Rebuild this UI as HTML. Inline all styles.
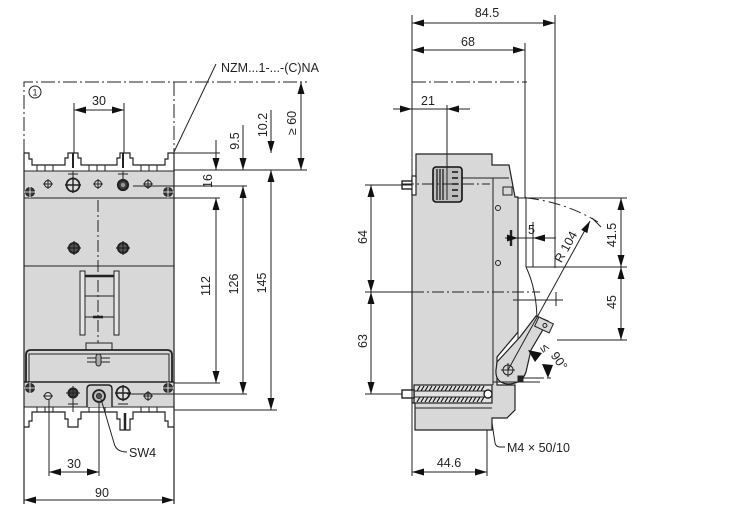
<!DOCTYPE html>
<html><head><meta charset="utf-8"><style>
html,body{margin:0;padding:0;background:#fff;}
svg{display:block;}
text{font-family:"Liberation Sans",sans-serif;font-size:12.5px;fill:#222;}
</style></head><body>
<svg width="743" height="509" viewBox="0 0 743 509" xmlns="http://www.w3.org/2000/svg">
<defs>
<marker id="a" viewBox="0 0 12 7" refX="12" refY="3.5" markerWidth="12" markerHeight="7" markerUnits="userSpaceOnUse" orient="auto-start-reverse"><path d="M0,0L12,3.5L0,7z" fill="#111"/></marker>
</defs>

<!-- ================= LEFT DEVICE ================= -->
<g stroke="#222" stroke-width="1" fill="none">
  <rect x="24" y="171" width="150" height="236" fill="#d8d8d8" stroke="none"/>
  <path d="M24,153 V82 H307 M174,82 V153" stroke-dasharray="14 3 2 3"/>
  <path d="M24,153 V504 M174,153 V504" stroke-width="1.2"/>
  <path d="M24,153 H29 V159 H32 V165 H65 V158 H68 V153 H78 V158 H81 V165 H117 V158 H120 V153 H130 V158 H133 V165 H165 V159 H168 V153 H174" stroke-width="1.2"/>
  <path d="M24,171 H174 M24,198 H174 M24,266 H174"/>
  <path d="M37,165V171 M45,165V171 M53,165V171 M89,165V171 M97,165V171 M105,165V171 M141,165V171 M149,165V171 M157,165V171"/>
  <path d="M73,153 V168 M123,153 V168" stroke-width="2"/>
  <path d="M68,174 H78 M73,171 V179 M118,174 H128 M123,171 V179"/>
  <path d="M24,407 H174"/>
  <path d="M24,427 H29 V421 H32 V412 H65 V419 H68 V427 H78 V419 H81 V412 H117 V419 H120 V430 H130 V419 H133 V412 H165 V421 H168 V427 H174" stroke-width="1.2"/>
  <path d="M37,407V412 M45,407V412 M53,407V412 M89,407V412 M105,407V412 M141,407V412 M149,407V412 M157,407V412"/>
  <path d="M125,413 V430" stroke-width="2.5"/>
  <path d="M68,404 H78 M73,400 V412 M118,404 H128"/>

  <g fill="#ddd"><circle cx="48" cy="184" r="3.5"/><circle cx="98" cy="184" r="3.5"/><circle cx="148" cy="184" r="3.5"/></g>
  <path d="M43,184H53 M48,179V189 M93,184H103 M98,179V189 M143,184H153 M148,179V189"/>
  <circle cx="73" cy="185" r="6.5" stroke-width="1.8" fill="#ddd"/>
  <path d="M65,185H81 M73,177V193" stroke-width="1.4"/>
  <circle cx="123" cy="185" r="5" stroke-width="2.2" fill="#444"/><circle cx="123" cy="185" r="2" fill="#999" stroke="none"/>
  <circle cx="30" cy="192" r="4.5" fill="#333"/><circle cx="168" cy="192" r="4.5" fill="#333"/>
  <path d="M24,192H36 M30,186V198 M162,192H174 M168,186V198" stroke="#fff" stroke-width="0.8"/>

  <path d="M98,200 V345" stroke-dasharray="12 3 2 3"/>
  <circle cx="74" cy="248" r="5" stroke-width="2" fill="#555"/>
  <circle cx="123" cy="248" r="5" stroke-width="2" fill="#555"/>
  <path d="M67,248H81 M74,241V255 M116,248H130 M123,241V255" stroke-width="1.2"/>

  <rect x="80" y="271" width="5" height="64" fill="#e6e6e6"/>
  <rect x="114" y="271" width="5" height="64" fill="#e6e6e6"/>
  <path d="M85,276 H114" stroke-width="2.6"/>
  <path d="M85,296 H114 M85,317 H114"/>
  <path d="M93,317 H103" stroke-width="2.6"/>
  <rect x="86" y="343" width="26" height="7" fill="#d8d8d8"/>
  <path d="M26,382 V355 Q26,350 31,350 H167 Q172,350 172,355 V382" stroke-width="1.8"/>
  <path d="M29,382 V354 H169 V382"/>
  <path d="M24,382 H174" stroke-width="1.6"/>
  <path d="M87,358 H110 M87,362 H110"/>
  <rect x="96" y="354" width="5" height="12" rx="2.5" fill="#aaa"/>

  <circle cx="30" cy="388" r="4.5" fill="#333"/><circle cx="168" cy="388" r="4.5" fill="#333"/>
  <path d="M24,388H36 M30,382V394 M162,388H174 M168,382V394" stroke="#fff" stroke-width="0.8"/>
  <g fill="#ddd"><circle cx="48" cy="396" r="3.5"/><circle cx="148" cy="396" r="3.5"/></g>
  <path d="M43,396H53 M148,391V401 M143,396H153"/>
  <circle cx="73" cy="393" r="4.5" stroke-width="2" fill="#444"/>
  <path d="M73,386V400 M66,393H80"/>
  <path d="M87,407 V389 Q87,385 91,385 H108 Q112,385 112,389 V407" fill="#d0d0d0" stroke-width="1.4"/>
  <circle cx="99" cy="396" r="6" stroke-width="1.8" fill="#bbb"/><circle cx="99" cy="396" r="2.5" fill="#555"/>
  <circle cx="123" cy="393" r="6.5" stroke-width="1.8" fill="#ddd"/>
  <path d="M115,393H131 M123,385V401" stroke-width="1.4"/>

  <path d="M74,103 V153 M124,103 V153"/>
  <line x1="74" y1="110" x2="124" y2="110" marker-start="url(#a)" marker-end="url(#a)"/>
  <path d="M174,153 H220 M174,170 H307 M133,186 H247 M174,198 H220"/>
  <path d="M174,383 H220 M127,394 H247 M174,410 H277"/>
  <line x1="216" y1="140" x2="216" y2="170" marker-end="url(#a)"/>
  <line x1="216" y1="198" x2="216" y2="383" marker-start="url(#a)" marker-end="url(#a)"/>
  <line x1="243" y1="125" x2="243" y2="170" marker-end="url(#a)"/>
  <line x1="243" y1="186" x2="243" y2="394" marker-start="url(#a)" marker-end="url(#a)"/>
  <line x1="271" y1="110" x2="271" y2="153" marker-end="url(#a)"/>
  <line x1="271" y1="170" x2="271" y2="410" marker-start="url(#a)" marker-end="url(#a)"/>
  <line x1="301" y1="82" x2="301" y2="170" marker-start="url(#a)" marker-end="url(#a)"/>
  <path d="M49,400 V476 M99,402 V476"/>
  <line x1="49" y1="472" x2="99" y2="472" marker-start="url(#a)" marker-end="url(#a)"/>
  <line x1="24" y1="500" x2="174" y2="500" marker-start="url(#a)" marker-end="url(#a)"/>
  <path d="M174,152 L216,64"/>
  <path d="M101,399 L114,443 Q116,452 127,452"/>
  <circle cx="35" cy="92" r="6"/>
</g>
<g>
  <text x="35" y="95.5" text-anchor="middle" style="font-size:9px">1</text>
  <text x="99" y="105" text-anchor="middle">30</text>
  <text x="221" y="72">NZM...1-...-(C)NA</text>
  <text transform="translate(208,181) rotate(-90)" y="4" text-anchor="middle">16</text>
  <text transform="translate(235,141) rotate(-90)" y="4" text-anchor="middle">9.5</text>
  <text transform="translate(263,125) rotate(-90)" y="4" text-anchor="middle">10.2</text>
  <text transform="translate(292,123) rotate(-90)" y="4" text-anchor="middle">≥ 60</text>
  <text transform="translate(206,286) rotate(-90)" y="4" text-anchor="middle">112</text>
  <text transform="translate(234,284) rotate(-90)" y="4" text-anchor="middle">126</text>
  <text transform="translate(262,283) rotate(-90)" y="4" text-anchor="middle">145</text>
  <text x="74" y="468" text-anchor="middle">30</text>
  <text x="102" y="497" text-anchor="middle">90</text>
  <text x="129" y="457">SW4</text>
</g>

<!-- ================= RIGHT DEVICE ================= -->
<g stroke="#222" stroke-width="1" fill="none">
  <path d="M416,154 H492 V165 H509 L515,197 H518 V332 L497,357 V385 H515 V410 L507,418 H492 V430 H415 V403 H412 V178 H416 Z" fill="#d8d8d8" stroke-width="1.2"/>
  <path d="M518,197 V343 M526,197 V267 M526,267 Q537,290 537,322"/>
  <path d="M497,362 L520,337 L536,316 L548,321 L531,350 L526,372 Q522,384 508,384 Q495,383 496,370 Z" fill="#d8d8d8" stroke-width="1.2"/>
  <g transform="translate(544,325) rotate(25)"><rect x="-8" y="-5" width="16" height="10" fill="#d8d8d8"/><circle cx="1" cy="0" r="2"/></g>
  <circle cx="508" cy="370" r="5"/>
  <path d="M501,370H515 M508,363V377"/>
  <path d="M518,378 H540 M493,382 H540" />
  <path d="M540,378 H552" stroke-dasharray="4 3"/>
  <rect x="518" y="376" width="5" height="6" fill="#222"/>
  <path d="M493,178 V385 M462,178 H509"/>
  <rect x="503" y="187" width="9" height="8"/>
  <circle cx="498" cy="208" r="2.5"/><circle cx="498" cy="263" r="2.5"/>
  <rect x="433" y="167" width="29" height="35" rx="3" fill="#bdbdbd" stroke="#111" stroke-width="1.6"/>
  <path d="M437,169V200 M440,169V200 M443,169V200" stroke="#111" stroke-width="1.2"/>
  <path d="M452,172H458 M452,178H458 M452,184H458 M452,190H458 M452,196H458" stroke="#111" stroke-width="1.6"/>
  <rect x="402" y="181" width="11" height="8" fill="#fff" stroke-width="1.4"/>
  <rect x="412" y="176" width="4" height="19" fill="#fff" stroke-width="1.2"/>
  <rect x="414" y="385" width="78" height="18" fill="#e2e2e2" stroke-width="1.2"/>
  <path d="M417,391 l3,-5 M421,391 l3,-5 M425,391 l3,-5 M429,391 l3,-5 M433,391 l3,-5 M437,391 l3,-5 M441,391 l3,-5 M445,391 l3,-5 M449,391 l3,-5 M453,391 l3,-5 M457,391 l3,-5 M461,391 l3,-5 M465,391 l3,-5 M469,391 l3,-5 M473,391 l3,-5 M477,391 l3,-5 M481,391 l3,-5
           M417,402 l3,-5 M421,402 l3,-5 M425,402 l3,-5 M429,402 l3,-5 M433,402 l3,-5 M437,402 l3,-5 M441,402 l3,-5 M445,402 l3,-5 M449,402 l3,-5 M453,402 l3,-5 M457,402 l3,-5 M461,402 l3,-5 M465,402 l3,-5 M469,402 l3,-5 M473,402 l3,-5 M477,402 l3,-5 M481,402 l3,-5" stroke="#111" stroke-width="1.2"/>
  <path d="M414,391 H486 M414,397 H486"/>
  <circle cx="488" cy="394" r="4" fill="#fff" stroke-width="1.4"/>
  <rect x="402" y="390" width="12" height="8" fill="#fff" stroke-width="1.4"/>
  <path d="M415,408 H492"/>

  <path d="M402,184 H490" stroke-dasharray="12 3 2 3"/>
  <path d="M412,292 H540" stroke-dasharray="12 3 2 3"/>
  <path d="M412,82 H527" stroke-dasharray="14 3 2 3"/>
  <path d="M513,300 H563 M556,292 V306"/>
  <path d="M527,198 A173,173 0 0,1 598,222" stroke-dasharray="12 4 2 4"/>
  <path d="M592,218 L601,227"/>
  <line x1="508" y1="370" x2="590" y2="221" marker-end="url(#a)"/>

  <path d="M412,15 V476 M525,43 V198 M555,15 V268"/>
  <line x1="412" y1="23" x2="555" y2="23" marker-start="url(#a)" marker-end="url(#a)"/>
  <line x1="412" y1="50" x2="525" y2="50" marker-start="url(#a)" marker-end="url(#a)"/>
  <path d="M393,109 H470 M447,105 V200"/>
  <path d="M412,109 L400,105.5 L400,112.5 Z M447,109 L459,105.5 L459,112.5 Z" fill="#111" stroke="none"/>
  <path d="M505,238 H556 M533,222 V267"/>
  <path d="M511,230 V246" stroke-width="2.4"/>
  <path d="M518,238 L507,234.5 L507,241.5 Z M533,238 L545,234.5 L545,241.5 Z" fill="#111" stroke="none"/>
  <path d="M365,185 H412 M365,292 H412 M365,394 H402"/>
  <line x1="371" y1="185" x2="371" y2="292" marker-start="url(#a)" marker-end="url(#a)"/>
  <line x1="371" y1="292" x2="371" y2="394" marker-start="url(#a)" marker-end="url(#a)"/>
  <path d="M518,198 H627 M526,267 H627 M557,340 H627"/>
  <line x1="621" y1="198" x2="621" y2="267" marker-start="url(#a)" marker-end="url(#a)"/>
  <line x1="621" y1="267" x2="621" y2="340" marker-start="url(#a)" marker-end="url(#a)"/>
  <path d="M528,350 L542,353 L535,362 Z M548,378 L542,364 L553,365 Z" fill="#111" stroke="none"/>
  <path d="M487,430 V476"/>
  <line x1="412" y1="472" x2="487" y2="472" marker-start="url(#a)" marker-end="url(#a)"/>
  <path d="M492,423 L495,443 Q496,447 500,447 H505"/>
</g>
<g>
  <text x="487" y="17" text-anchor="middle">84.5</text>
  <text x="468" y="46" text-anchor="middle">68</text>
  <text x="428" y="105" text-anchor="middle">21</text>
  <text x="528" y="234">5</text>
  <text transform="translate(363,237) rotate(-90)" y="4" text-anchor="middle">64</text>
  <text transform="translate(363,341) rotate(-90)" y="4" text-anchor="middle">63</text>
  <text transform="translate(612,235) rotate(-90)" y="4" text-anchor="middle">41.5</text>
  <text transform="translate(612,302) rotate(-90)" y="4" text-anchor="middle">45</text>
  <text transform="translate(566,247) rotate(-61)" y="4" text-anchor="middle">R 104</text>
  <text transform="translate(545,348) rotate(55)" y="4" text-anchor="middle">≤</text>
  <text transform="translate(559,361) rotate(55)" y="4" text-anchor="middle">90°</text>
  <text x="507" y="452">M4 × 50/10</text>
  <text x="449" y="467" text-anchor="middle">44.6</text>
</g>
</svg>
</body></html>
